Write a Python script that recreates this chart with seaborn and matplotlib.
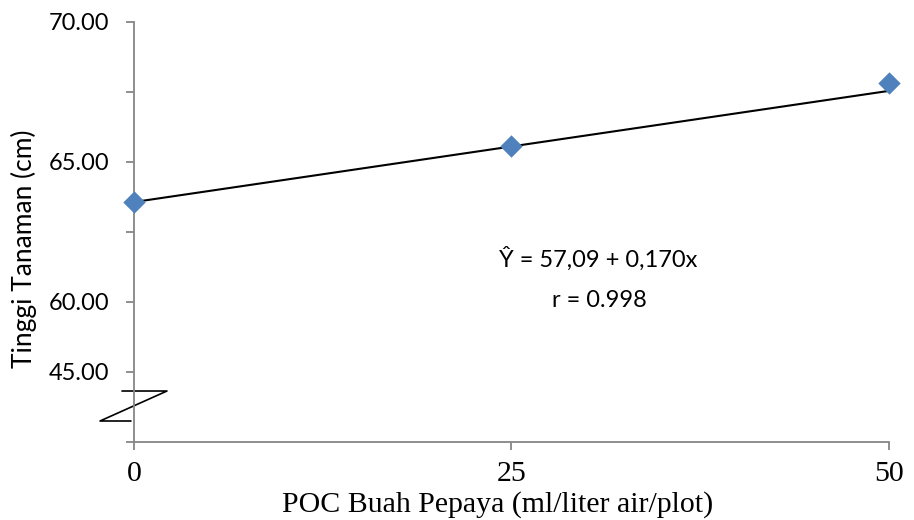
import matplotlib
matplotlib.use("Agg")
import matplotlib.pyplot as plt
import seaborn as sns
import pandas as pd

# ── data ────────────────────────────────────────────────────
dosis = [0, 25, 50]                      # POC buah pepaya (ml/liter air/plot)
tinggi = [63.58, 65.57, 67.83]           # tinggi tanaman (cm)
trend_x = [0, 50]
trend_y = [63.57, 67.54]                 # garis regresi dari grafik asli

x_ticks = [0, 25, 50]
y_ticks = [55, 57.5, 60, 62.5, 65, 67.5, 70]
y_labels = ["", "45.00", "60.00", "", "65.00", "", "70.00"]

eq_text = "Ŷ = 57,09 + 0,170x"
r_text = "r = 0.998"

df = pd.DataFrame({"dosis": dosis, "tinggi": tinggi})
df_trend = pd.DataFrame({"x": trend_x, "y": trend_y})

# ── style ───────────────────────────────────────────────────
sns.set_theme(style="white")
plt.rcParams["font.family"] = ["Lato", "DejaVu Sans"]
plt.rcParams.update({"text.color": "black", "axes.labelcolor": "black",
                     "xtick.labelcolor": "black", "ytick.labelcolor": "black"})
axis_grey = "#868686"
blue = "#4F81BD"

fig = plt.figure(figsize=(9.14, 5.2), dpi=100)
ax = fig.add_axes([0.1466, 0.15, 0.826, 0.8077])

sns.lineplot(data=df_trend, x="x", y="y", color="black", linewidth=1.5, ax=ax)
sns.scatterplot(data=df, x="dosis", y="tinggi", marker="D", s=130,
                color=blue, edgecolor=blue, linewidth=0, zorder=3,
                clip_on=False, ax=ax)

ax.set_xlim(0, 50)
ax.set_ylim(55, 70)
ax.set_xticks(x_ticks)
ax.set_xticklabels([str(v) for v in x_ticks], family="Liberation Serif", fontsize=21.5)
ax.set_yticks(y_ticks)
ax.set_yticklabels(y_labels, fontsize=17)

ax.tick_params(axis="y", direction="out", length=6, width=1.3, color=axis_grey,
               pad=12, left=True, labelcolor="black")
ax.tick_params(axis="x", direction="out", length=6, width=1.3, color=axis_grey,
               pad=8, bottom=True, labelcolor="black")

for side in ["top", "right"]:
    ax.spines[side].set_visible(False)
for side in ["left", "bottom"]:
    ax.spines[side].set_color(axis_grey)
    ax.spines[side].set_linewidth(1.3)

ax.set_xlabel("POC Buah Pepaya (ml/liter air/plot)", family="Liberation Serif",
              fontsize=21.5, color="black")
ax.xaxis.set_label_coords(0.482, -0.118)
ax.set_ylabel("Tinggi Tanaman (cm)", fontsize=19, color="black")
ax.yaxis.set_label_coords(-0.128, 0.46)

# axis break symbol (Z shape) on the y axis
ax.plot([-0.0159, 0.0437, -0.045, -0.004], [0.1214, 0.1214, 0.05, 0.05],
        transform=ax.transAxes, color="black", linewidth=1.2, clip_on=False)

ax.text(0.615, 0.436, eq_text, transform=ax.transAxes, ha="center", va="center",
        fontsize=17, color="black")
ax.text(0.617, 0.338, r_text, transform=ax.transAxes, ha="center", va="center",
        fontsize=17, color="black")

fig.savefig("out.png", dpi=100)
